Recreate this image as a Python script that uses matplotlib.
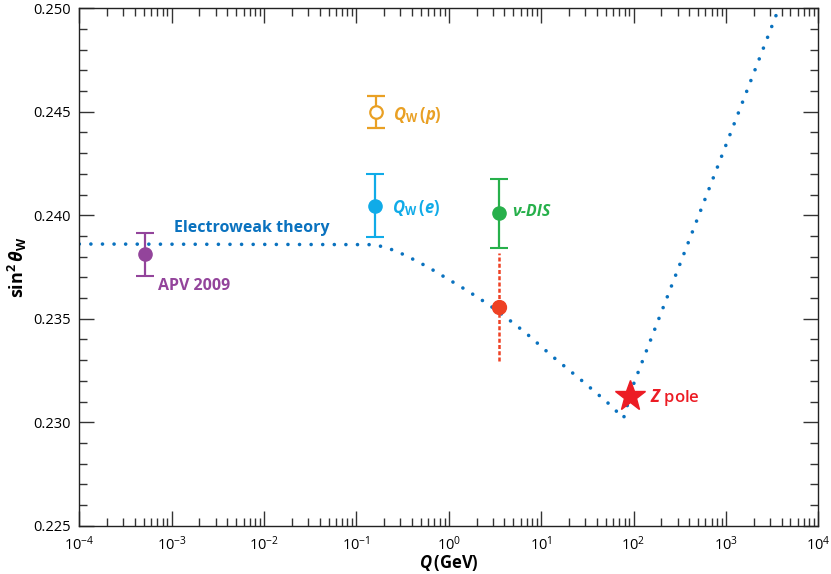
import matplotlib
matplotlib.use("Agg")
import matplotlib.pyplot as plt
from matplotlib.ticker import LogLocator, MultipleLocator, LogFormatterMathtext, FormatStrFormatter, NullFormatter

plt.rcParams["font.family"] = ["Open Sans", "DejaVu Sans"]
plt.rcParams["mathtext.fontset"] = "custom"
plt.rcParams["mathtext.rm"] = "Open Sans"
plt.rcParams["mathtext.it"] = "Open Sans:italic"
plt.rcParams["mathtext.bf"] = "Open Sans:bold"
plt.rcParams["mathtext.bfit"] = "Open Sans:italic:bold"
plt.rcParams["mathtext.sf"] = "Open Sans"

# electroweak theory running curve (Q in GeV, sin^2 theta_W)
theory_q = [1e-4, 0.152, 0.203, 0.267, 0.352, 0.594, 0.977, 1.61, 2.65, 4.26,
            6.84, 13.1, 26.3, 51.5, 78.0, 101.0, 3740.0]
theory_s = [0.23861, 0.23858, 0.23846, 0.23827, 0.23803, 0.23750, 0.23692, 0.23634,
            0.23571, 0.23503, 0.23431, 0.23320, 0.23209, 0.23098, 0.23020, 0.23189, 0.2500]

# measurements
apv_q, apv_s, apv_err = 5.15e-4, 0.23811, 0.00105
qwe_q, qwe_s, qwe_err = 0.160, 0.24046, 0.00153
qwp_q, qwp_s, qwp_err = 0.163, 0.24500, 0.00077
dis_q, dis_s, dis_err = 3.48, 0.24009, 0.00166
nut_q, nut_s, nut_err = 3.48, 0.23558, 0.00262
z_q, z_s = 91.19, 0.23127

c_theory = "#0a72bf"
c_apv = "#93449b"
c_qwe = "#10abe8"
c_qwp = "#e9a024"
c_dis = "#27b04b"
c_red = "#ee4124"
c_z = "#ec1c24"

fig = plt.figure(figsize=(8.31, 5.74), dpi=100)
ax = fig.add_axes([0.0954, 0.084, 0.8893, 0.9017])

ax.plot(theory_q, theory_s, color=c_theory, lw=2.6, linestyle=(0, (0.01, 3.2)),
        dash_capstyle="round", zorder=2)

# red dotted error line
ax.plot([nut_q, nut_q], [nut_s - nut_err, nut_s + nut_err], color=c_red, lw=1.8,
        linestyle=(0, (1.6, 0.9)), zorder=2)
ax.plot(nut_q, nut_s, "o", color=c_red, ms=10, zorder=4)

ekw = dict(elinewidth=1.6, capsize=6.5, capthick=1.5, ms=9.5, zorder=3)
ax.errorbar(apv_q, apv_s, yerr=apv_err, fmt="o", color=c_apv, **ekw)
ax.errorbar(qwe_q, qwe_s, yerr=qwe_err, fmt="o", color=c_qwe, **ekw)
ax.errorbar(qwp_q, qwp_s, yerr=qwp_err, fmt="o", color=c_qwp, mfc="white", mew=1.6,
            elinewidth=1.6, capsize=6.5, capthick=1.5, ms=9, zorder=3)
ax.errorbar(dis_q, dis_s, yerr=dis_err, fmt="o", color=c_dis, **ekw)
ax.plot(z_q, z_s, "*", color=c_z, ms=23, zorder=5)

fs = 11.5
ax.text(1.06e-3, 0.23938, "Electroweak theory", color=c_theory, fontsize=fs,
        fontweight="bold", va="center")
ax.text(7.13e-4, 0.23658, "APV 2009", color=c_apv, fontsize=fs, fontweight="bold", va="center")
ax.text(0.248, 0.24484, r"$\mathbfit{Q}_{\mathbf{W}}\,\mathbf{(}\mathbfit{p}\mathbf{)}$",
        color=c_qwp, fontsize=12, va="center")
ax.text(0.245, 0.24035, r"$\mathbfit{Q}_{\mathbf{W}}\,\mathbf{(}\mathbfit{e}\mathbf{)}$",
        color=c_qwe, fontsize=12, va="center")
ax.text(4.82, 0.24015, "ν-DIS", color=c_dis, fontsize=fs, fontweight="bold",
        fontstyle="italic", va="center")
ax.text(150, 0.23122, r"$\mathbfit{Z}$ pole", color=c_z, fontsize=12, fontweight="semibold",
        va="center")

ax.set_xscale("log")
ax.set_xlim(1e-4, 1e4)
ax.set_ylim(0.225, 0.250)
ax.xaxis.set_major_locator(LogLocator(base=10, numticks=20))
ax.xaxis.set_minor_locator(LogLocator(base=10, subs=range(2, 10), numticks=20))
ax.xaxis.set_major_formatter(LogFormatterMathtext())
ax.xaxis.set_minor_formatter(NullFormatter())
ax.yaxis.set_major_locator(MultipleLocator(0.005))
ax.yaxis.set_minor_locator(MultipleLocator(0.001))
ax.yaxis.set_major_formatter(FormatStrFormatter("%.3f"))

ax.tick_params(which="both", direction="in", top=True, right=True, color="#333333",
               labelsize=10.5, width=1)
ax.tick_params(which="major", length=11, pad=6)
ax.tick_params(which="minor", length=5.5)
ax.tick_params(axis="x", which="major", pad=7)
for s in ax.spines.values():
    s.set_linewidth(1)
    s.set_color("#222222")

ax.set_xlabel(r"$\mathbfit{Q}\,\mathbf{(GeV)}$", fontsize=12, labelpad=-1)
ax.set_ylabel(r"$\mathbf{sin}^{\mathbf{2}}\,\mathbfit{\theta}_{\mathbf{W}}$", fontsize=13,
              labelpad=3)

fig.savefig("out.png", dpi=100)
